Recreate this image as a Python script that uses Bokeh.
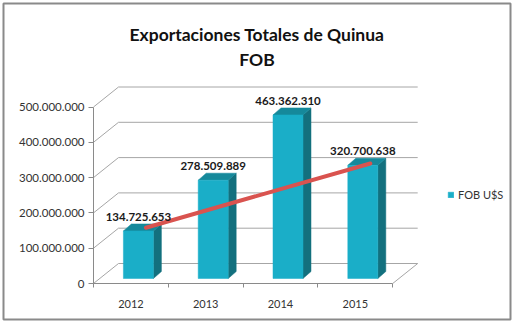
from bokeh.plotting import figure
from bokeh.models import (Range1d, FixedTicker, CustomJSTickFormatter, LinearAxis,
                          Label, Legend, LegendItem, ColumnDataSource)
from bokeh.core.properties import value
from bokeh.embed import file_html
from bokeh.resources import INLINE

# ---------------- data ----------------
title_lines = ["Exportaciones Totales de Quinua", "FOB"]
years = ["2012", "2013", "2014", "2015"]
fob = [134725653, 278509889, 463362310, 320700638]
series_name = "FOB U$S"
y_ticks = [0, 100000000, 200000000, 300000000, 400000000, 500000000]
trend_years = ["2012", "2015"]
trend_vals = [158000000, 340000000]

# ---------------- geometry (pixel-based scales) ----------------
W, H = 515, 325
FL, FR, FT, FB = 3, 510, 3, 319          # frame edges in px
X0PX, KX = 130.4, 74.8                   # px of category 0 centre, px per category
Y0PX, KY = 283.0, 0.353e-6               # px of value 0 (front plane), px per unit


def dxp(px):
    return px / KX


def dyp(px):
    return px / KY


x_start = (FL - X0PX) / KX
x_end = (FR - X0PX) / KX
y_start = -(FB - Y0PX) / KY
y_end = (Y0PX - FT) / KY

p = figure(width=W, height=H, output_backend="svg", toolbar_location=None,
           x_range=Range1d(x_start, x_end), y_range=Range1d(y_start, y_end),
           min_border_left=FL, min_border_right=W - FR, min_border_top=FT,
           min_border_bottom=H - FB, x_axis_type=None, y_axis_type=None)
p.title.visible = False
p.grid.visible = False
p.background_fill_color = "white"
p.border_fill_color = "white"
p.outline_line_color = "#8a8a8a"
p.outline_line_width = 2

n = len(years)
idx = list(range(n))
xl, xr = -0.5, n - 0.5

# 3D wall depth offset
wdx, wdy = dxp(25), dyp(20)
grid_col = "#a6a6a6"

# back wall lines + side wall diagonals
p.segment(x0=[xl + wdx] * len(y_ticks), y0=[t + wdy for t in y_ticks],
          x1=[xr + wdx] * len(y_ticks), y1=[t + wdy for t in y_ticks],
          line_color=grid_col, line_width=1)
p.segment(x0=[xl] * len(y_ticks), y0=y_ticks,
          x1=[xl + wdx] * len(y_ticks), y1=[t + wdy for t in y_ticks],
          line_color=grid_col, line_width=1)
# floor right edge
p.segment(x0=[xr], y0=[0], x1=[xr + wdx], y1=[wdy], line_color=grid_col, line_width=1)

# ---------------- bars ----------------
bdx, bdy = dxp(7.5), dyp(5)      # front face offset from front plane
bw = dxp(30)                      # bar width
sdx, sdy = dxp(8), dyp(7)         # bar depth

cx = [i + bdx for i in idx]
bottom = bdy
tops = [v + bdy for v in fob]
front_col, top_col, side_col = "#1aaec8", "#15899b", "#13707e"

side_xs, side_ys, top_xs, top_ys = [], [], [], []
for c, t in zip(cx, tops):
    l, r = c - bw / 2, c + bw / 2
    side_xs.append([r, r + sdx, r + sdx, r])
    side_ys.append([bottom, bottom + sdy, t + sdy, t])
    top_xs.append([l, l + sdx, r + sdx, r])
    top_ys.append([t, t + sdy, t + sdy, t])

p.patches(side_xs, side_ys, fill_color=side_col, line_color=side_col, line_width=0.5)
p.patches(top_xs, top_ys, fill_color=top_col, line_color=top_col, line_width=0.5)
front = p.vbar(x=cx, width=bw, bottom=bottom, top=tops, fill_color=front_col,
               line_color=front_col, line_width=0.5)

# trend line
tdx = dxp(15)
p.line(x=[years.index(y) + tdx for y in trend_years], y=trend_vals,
       line_color="#d9534f", line_width=4, line_cap="round")

# value labels
lab_src = ColumnDataSource(dict(x=cx, y=tops,
                                t=[f"{v:,}".replace(",", ".") for v in fob]))
p.text(x="x", y="y", text="t", source=lab_src, text_align="center",
       text_baseline="middle", y_offset=-14, text_font=value("Lato"),
       text_font_size="11.5px", text_font_style="bold", text_color="#1a1a1a")

# ---------------- axes ----------------
fmt_dots = CustomJSTickFormatter(code="""
return Math.round(tick).toString().replace(/\\B(?=(\\d{3})+(?!\\d))/g, '.');
""")
yax = LinearAxis(fixed_location=xl, bounds=(0, y_ticks[-1]),
                 ticker=FixedTicker(ticks=y_ticks), formatter=fmt_dots)
yax.axis_line_color = "#8a8a8a"
yax.major_tick_line_color = "#8a8a8a"
yax.major_tick_out = 5
yax.major_tick_in = 0
yax.minor_tick_line_color = None
yax.major_label_standoff = 4
yax.major_label_text_font = "Lato"
yax.major_label_text_font_size = "11.5px"
yax.major_label_text_color = "#333333"
p.add_layout(yax, "left")

xax = LinearAxis(fixed_location=0, bounds=(xl, xr),
                 ticker=FixedTicker(ticks=idx, minor_ticks=[i - 0.5 for i in range(n + 1)]),
                 formatter=CustomJSTickFormatter(args=dict(labels=years),
                                                 code="return labels[Math.round(tick)];"))
xax.axis_line_color = "#8a8a8a"
xax.major_tick_line_color = None
xax.major_tick_out = 0
xax.major_tick_in = 0
xax.minor_tick_line_color = "#8a8a8a"
xax.minor_tick_out = 4
xax.minor_tick_in = 0
xax.major_label_standoff = 12
xax.major_label_text_font = "Lato"
xax.major_label_text_font_size = "11px"
xax.major_label_text_color = "#333333"
p.add_layout(xax, "below")

# ---------------- title ----------------
tcx = (256.5 - X0PX) / KX
for k, line in enumerate(title_lines):
    p.add_layout(Label(x=tcx, y=(Y0PX - (33.5 + 25.7 * k)) / KY, text=line,
                       text_align="center", text_baseline="alphabetic",
                       text_font="Lato", text_font_size="17.5px",
                       text_font_style="bold", text_color="#111111"))

# ---------------- legend ----------------
leg = Legend(items=[LegendItem(label=series_name, renderers=[front])],
             location=(444, 118), glyph_width=7, glyph_height=7,
             label_standoff=4, padding=0, margin=0, spacing=0,
             label_text_font="Lato", label_text_font_size="11px",
             label_text_color="#333333", border_line_color=None,
             background_fill_alpha=0)
p.add_layout(leg)

open("out.html", "w").write(file_html(p, INLINE))
